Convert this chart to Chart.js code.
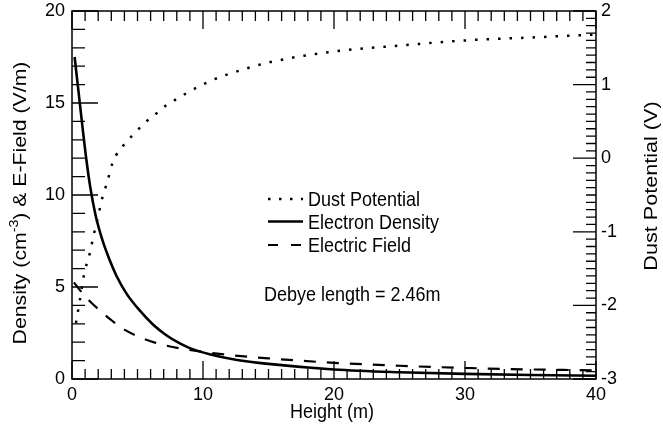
<!DOCTYPE html>
<html>
<head>
<meta charset="utf-8">
<script src="https://cdn.jsdelivr.net/npm/chart.js@4.4.0/dist/chart.umd.min.js"></script>
<style>
  html, body { margin: 0; padding: 0; background: #fff; }
  canvas { display: block; }
</style>
</head>
<body>
<canvas id="chart" width="663" height="433"></canvas>
<script>
// values
const heightDust = [0.3, 0.59, 0.84, 1.02, 1.28, 1.48, 1.66, 1.86, 2.06, 2.24, 2.5, 2.75, 2.95, 3.34, 3.95, 4.73, 5.55, 6.39, 7.2, 8.04, 8.9, 9.75, 10.56, 11.43, 12.24, 15, 20, 25, 30, 35, 40];
const dustPotential = [-2.24, -1.94, -1.66, -1.5, -1.35, -1.19, -1.04, -0.89, -0.74, -0.59, -0.43, -0.29, -0.14, 0.03, 0.18, 0.33, 0.48, 0.6, 0.72, 0.81, 0.9, 0.98, 1.05, 1.11, 1.16, 1.3, 1.45, 1.53, 1.6, 1.64, 1.68];

const heightNe = [0.2, 0.5, 0.8, 1.1, 1.4, 1.8, 2.3, 2.8, 3.4, 4.2, 5.2, 6.2, 7.2, 8.2, 9.0, 10.5, 12.5, 15, 20, 25, 30, 35, 40];
const electronDensity = [17.5, 15.6, 13.7, 11.9, 10.4, 8.9, 7.6, 6.6, 5.6, 4.6, 3.7, 2.95, 2.38, 1.95, 1.68, 1.35, 1.05, 0.82, 0.52, 0.37, 0.28, 0.22, 0.18];

const heightE = [0.15, 0.75, 1.4, 2.2, 3.0, 4.0, 5.0, 6.0, 7.0, 8.2, 9.75, 11.8, 15, 20, 25, 30, 35, 40];
const electricField = [5.25, 4.7, 4.2, 3.68, 3.2, 2.68, 2.33, 2.05, 1.85, 1.67, 1.5, 1.32, 1.12, 0.88, 0.72, 0.6, 0.52, 0.47];

const xTicks = [0, 10, 20, 30, 40];
const leftTicks = [0, 5, 10, 15, 20];
const rightTicks = [-3, -2, -1, 0, 1, 2];
const debyeNote = 'Debye length = 2.46m';

const FONT = '"Liberation Sans", Arial, Helvetica, sans-serif';
const pts = (xs, ys) => xs.map((x, i) => ({ x, y: ys[i] }));

// text in the figure is a little stretched vertically
function tallText(ctx, str, x, y, sy) {
  ctx.save();
  ctx.translate(x, y);
  ctx.scale(1, sy);
  ctx.fillText(str, 0, 0);
  ctx.restore();
}

// inward ticks + frame + axis titles + legend
const decorations = {
  id: 'decorations',
  afterDatasetsDraw(chart) {
    const ctx = chart.ctx;
    const a = chart.chartArea;
    const { x, y, y1 } = chart.scales;
    ctx.save();
    ctx.strokeStyle = '#000';
    ctx.lineWidth = 1.5;
    ctx.strokeRect(a.left, a.top, a.right - a.left, a.bottom - a.top);

    ctx.lineWidth = 1.3;
    ctx.beginPath();
    x.ticks.forEach(t => {
      const px = x.getPixelForValue(t.value);
      const len = xTicks.includes(t.value) ? 18 : 10;
      ctx.moveTo(px, a.bottom); ctx.lineTo(px, a.bottom - len);
      ctx.moveTo(px, a.top); ctx.lineTo(px, a.top + len);
    });
    y.ticks.forEach(t => {
      const py = y.getPixelForValue(t.value);
      const len = leftTicks.includes(t.value) ? 26 : 13;
      ctx.moveTo(a.left, py); ctx.lineTo(a.left + len, py);
    });
    y1.ticks.forEach(t => {
      const py = y1.getPixelForValue(t.value);
      const major = Math.abs(t.value - Math.round(t.value)) < 1e-6;
      const len = major ? 23 : 10;
      ctx.moveTo(a.right, py); ctx.lineTo(a.right - len, py);
    });
    ctx.stroke();

    ctx.fillStyle = '#000';
    ctx.font = '18px ' + FONT;

    // bottom title
    ctx.textAlign = 'center';
    ctx.textBaseline = 'alphabetic';
    tallText(ctx, 'Height (m)', (a.left + a.right) / 2 - 2, 418, 1.12);

    // left title with superscript (rotated, stretched along its length)
    ctx.save();
    ctx.translate(26, 203);
    ctx.rotate(-Math.PI / 2);
    ctx.scale(1.18, 1);
    ctx.textAlign = 'left';
    const p1 = 'Density (cm', sup = '-3', p2 = ') & E-Field (V/m)';
    ctx.font = '18px ' + FONT;
    const w1 = ctx.measureText(p1).width, w2 = ctx.measureText(p2).width;
    ctx.font = '12px ' + FONT;
    const ws = ctx.measureText(sup).width;
    let cx = -(w1 + ws + w2) / 2;
    ctx.font = '18px ' + FONT;
    ctx.fillText(p1, cx, 0); cx += w1;
    ctx.font = '12px ' + FONT;
    ctx.fillText(sup, cx, -8); cx += ws;
    ctx.font = '18px ' + FONT;
    ctx.fillText(p2, cx, 0);
    ctx.restore();

    // right title
    ctx.save();
    ctx.translate(657, 186);
    ctx.rotate(-Math.PI / 2);
    ctx.scale(1.2, 1);
    ctx.textAlign = 'center';
    ctx.font = '18px ' + FONT;
    ctx.fillText('Dust Potential (V)', 0, 0);
    ctx.restore();

    // legend inside the plot
    const lx0 = 268, lx1 = 303, tx = 308;
    const rows = [199, 221.5, 245];
    ctx.textAlign = 'left';
    ctx.textBaseline = 'alphabetic';
    ctx.font = '18px ' + FONT;
    chart.data.datasets.forEach((ds, i) => {
      const ly = rows[i];
      ctx.beginPath();
      ctx.lineWidth = ds.borderWidth;
      ctx.setLineDash(ds.legendDash || []);
      ctx.moveTo(lx0, ly); ctx.lineTo(lx1, ly);
      ctx.stroke();
      ctx.setLineDash([]);
      tallText(ctx, ds.label, tx, ly + 7, 1.1);
    });
    tallText(ctx, debyeNote, 264, 301, 1.1);
    ctx.restore();
  }
};

const noPad = s => { s.paddingTop = 0; s.paddingBottom = 0; };

new Chart(document.getElementById('chart'), {
  type: 'line',
  data: {
    datasets: [
      {
        label: 'Dust Potential',
        data: pts(heightDust, dustPotential),
        yAxisID: 'y1',
        borderColor: '#000',
        borderWidth: 2.5,
        borderDash: [2.5, 9],
        legendDash: [2.5, 8.5],
        pointRadius: 0,
        cubicInterpolationMode: 'monotone',
        fill: false
      },
      {
        label: 'Electron Density',
        data: pts(heightNe, electronDensity),
        yAxisID: 'y',
        borderColor: '#000',
        borderWidth: 2.6,
        pointRadius: 0,
        cubicInterpolationMode: 'monotone',
        fill: false
      },
      {
        label: 'Electric Field',
        data: pts(heightE, electricField),
        yAxisID: 'y',
        borderColor: '#000',
        borderWidth: 2.2,
        borderDash: [12, 11],
        legendDash: [10, 13],
        pointRadius: 0,
        cubicInterpolationMode: 'monotone',
        fill: false
      }
    ]
  },
  options: {
    responsive: false,
    devicePixelRatio: 1,
    animation: false,
    layout: { padding: { top: 11, left: 0, right: 0, bottom: 0 } },
    plugins: { legend: { display: false }, tooltip: { enabled: false } },
    scales: {
      x: {
        type: 'linear', min: 0, max: 40,
        grid: { display: false, drawTicks: false },
        border: { display: false },
        ticks: {
          stepSize: 1, autoSkip: false, maxTicksLimit: 100, maxRotation: 0, padding: 5,
          color: '#000', font: { family: FONT, size: 18 },
          callback: v => xTicks.includes(v) ? String(v) : ''
        },
        afterFit: s => { s.height = 54; }
      },
      y: {
        type: 'linear', position: 'left', min: 0, max: 20,
        grid: { display: false, drawTicks: false },
        border: { display: false },
        ticks: {
          stepSize: 1, autoSkip: false, maxTicksLimit: 100, padding: 7,
          color: '#000', font: { family: FONT, size: 18 },
          callback: v => leftTicks.includes(v) ? String(v) : ''
        },
        afterFit: s => { s.width = 72; noPad(s); }
      },
      y1: {
        type: 'linear', position: 'right', min: -3, max: 2,
        grid: { display: false, drawTicks: false },
        border: { display: false },
        ticks: {
          stepSize: 0.1, autoSkip: false, maxTicksLimit: 100, padding: 5,
          color: '#000', font: { family: FONT, size: 18 },
          callback: v => {
            const r = Math.round(v);
            return (Math.abs(v - r) < 1e-6 && rightTicks.includes(r)) ? String(r) : '';
          }
        },
        afterFit: s => { s.width = 67; noPad(s); }
      }
    }
  },
  plugins: [decorations]
});
</script>
</body>
</html>
